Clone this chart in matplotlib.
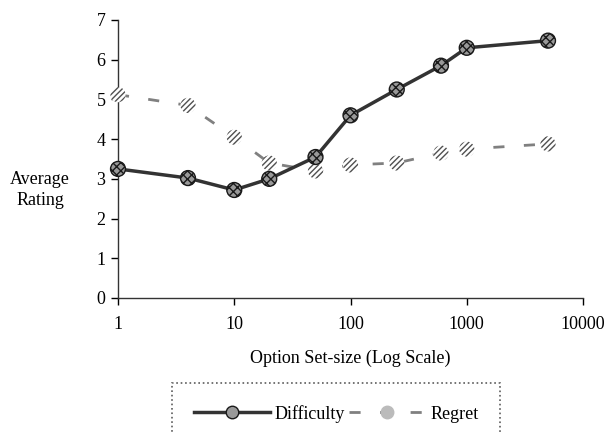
import matplotlib
matplotlib.use('Agg')
import matplotlib.pyplot as plt
from matplotlib.lines import Line2D

plt.rcParams['font.family'] = ['Liberation Serif', 'DejaVu Serif']
plt.rcParams['hatch.linewidth'] = 1.0

# data
set_size = [1, 4, 10, 20, 50, 100, 250, 600, 1000, 5000]
difficulty = [3.25, 3.02, 2.72, 3.0, 3.55, 4.6, 5.25, 5.85, 6.3, 6.48]
regret = [5.12, 4.85, 4.05, 3.4, 3.2, 3.35, 3.4, 3.65, 3.75, 3.88]
y_ticks = [0, 1, 2, 3, 4, 5, 6, 7]
x_ticks = [1, 10, 100, 1000, 10000]
x_labels = ['1', '10', '100', '1000', '10000']

fig = plt.figure(figsize=(6.04, 4.32), dpi=100)
ax = fig.add_axes([118 / 604, 1 - 298 / 432, (583 - 118) / 604, (298 - 20) / 432])

# regret: dashed grey line + hatched markers
ax.plot(set_size, regret, color='#808080', linewidth=2, dashes=(4, 7), zorder=2,
        clip_on=False)
ax.scatter(set_size, regret, s=120, facecolor='white', edgecolor='#505050',
           hatch='//////', linewidth=0, zorder=3, clip_on=False)

# difficulty: solid dark line + dark hatched markers
ax.plot(set_size, difficulty, color='#333333', linewidth=2.5, zorder=4, clip_on=False)
ax.scatter(set_size, difficulty, s=115, facecolor='#999999', edgecolor='#1a1a1a',
           hatch='xxxx', linewidth=1.0, zorder=5, clip_on=False)

ax.set_xscale('log')
ax.set_xlim(1, 10000)
ax.set_ylim(0, 7)
ax.set_xticks(x_ticks)
ax.set_xticklabels(x_labels)
ax.xaxis.set_minor_locator(matplotlib.ticker.NullLocator())
ax.set_yticks(y_ticks)
ax.tick_params(axis='both', labelsize=13, length=5, width=1, direction='out', pad=4)
ax.tick_params(axis='x', pad=8)

for side in ['top', 'right']:
    ax.spines[side].set_visible(False)
for side in ['left', 'bottom']:
    ax.spines[side].set_linewidth(1.0)
    ax.spines[side].set_color('#333333')

ax.set_xlabel('Option Set-size (Log Scale)', fontsize=13, labelpad=12)
fig.text(40 / 604, 1 - 190 / 432, 'Average\nRating', fontsize=13,
         ha='center', va='center', linespacing=1.3)

# legend below, box cut off by the bottom edge
handles = [
    Line2D([], [], color='#333333', linewidth=2.5, marker='o', markersize=9,
           markerfacecolor='#999999', markeredgecolor='#1a1a1a'),
    Line2D([], [], color='#808080', linewidth=2, dashes=(4, 7), marker='o',
           markersize=9, markerfacecolor='#bbbbbb', markeredgecolor='#bbbbbb'),
]
leg = fig.legend(handles, ['Difficulty', 'Regret'], loc='upper left',
                 bbox_to_anchor=(172 / 604, 1 - 383 / 432), ncol=2, fontsize=13,
                 frameon=True, fancybox=False, borderpad=1.2, handlelength=4.2,
                 handletextpad=0.3, columnspacing=0.2, borderaxespad=0)
leg.get_frame().set_edgecolor('#333333')
leg.get_frame().set_linestyle(':')
leg.get_frame().set_linewidth(1.2)

fig.savefig('out.png', dpi=100)
